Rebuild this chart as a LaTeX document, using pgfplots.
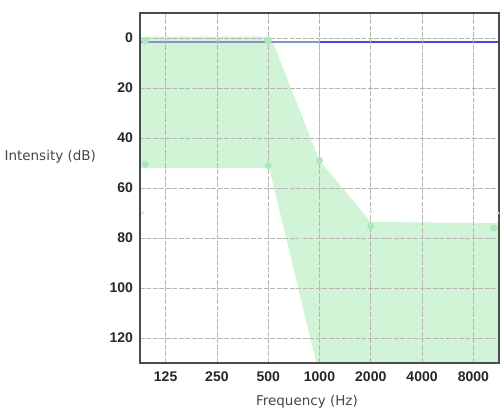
\documentclass[border=0pt]{standalone}
\usepackage{fontspec}
\setmainfont{DejaVu Sans}
\newfontfamily\tickfont{Liberation Sans}
\usepackage{pgfplots}
\pgfplotsset{compat=1.18}
\definecolor{areagreen}{RGB}{210,244,214}
\definecolor{dotgreen}{RGB}{172,232,184}
\definecolor{gridgray}{RGB}{182,182,182}
\definecolor{framegray}{RGB}{75,75,75}
\definecolor{lineblue}{RGB}{70,70,225}
\definecolor{mixblue}{RGB}{130,150,195}
\definecolor{labelgray}{RGB}{70,70,70}
\begin{document}
\begin{tikzpicture}
\useasboundingbox (0,0) rectangle (504pt,-419pt);
\begin{axis}[
  at={(140pt,-13pt)}, anchor=north west,
  scale only axis, width=359pt, height=350pt,
  xmin=-0.5, xmax=6.5, ymin=-10, ymax=130, y dir=reverse,
  xtick={0,1,2,3,4,5,6},
  xticklabels={125,250,500,1000,2000,4000,8000},
  ytick={0,20,40,60,80,100,120},
  major tick length=0pt,
  grid=major,
  major grid style={gridgray, dash pattern=on 5pt off 1.5pt, line width=0.8pt},
  axis line style={framegray, line width=2pt},
  axis on top,
  /pgf/number format/assume math mode=true,
  tick label style={font=\tickfont\bfseries\fontsize{14}{14}\selectfont, text=black!85},
  yticklabel style={xshift=-3.5pt},
  xticklabel style={yshift=-5.5pt},
  xlabel={Frequency (Hz)},
  ylabel={Intensity (dB)},
  label style={font=\fontsize{13.5}{14}\selectfont, text=labelgray},
  xlabel style={at={(axis description cs:0.465,-0.112)}, anchor=center},
  ylabel style={at={(axis description cs:-0.25,0.589)}, anchor=center, rotate=-90},
]
% shaded region between best and worst thresholds
\addplot[fill=areagreen, draw=none] coordinates {
  (-0.5,-0.5) (2.05,-0.5) (3,49) (4,73.6) (6.5,74) (6.5,131)
  (2.95,131) (2.02,52) (-0.5,52)
} -- cycle;
% thin vertical line at 1000 Hz
\addplot[dotgreen, line width=0.6pt] coordinates {(3,1.5) (3,49)};
% threshold line
\addplot[mixblue, line width=1.6pt] coordinates {(-0.5,1.5) (3,1.5)};
\addplot[lineblue, line width=1.6pt] coordinates {(3,1.5) (6.5,1.5)};
% faint small markers
\addplot[only marks, mark=*, mark size=1.3pt, dotgreen!70!white, mark options={draw=none}]
  coordinates {(-0.45,70) (2,70) (4,69.5) (6.48,70) (2.6,80)};
% threshold points
\addplot[only marks, mark=*, mark size=3.3pt, dotgreen, mark options={draw=none}]
  coordinates {(-0.4,1.2) (-0.4,50.5) (2,1.2) (2,51) (3,49) (4,75.2) (6.4,76)};
\end{axis}
\end{tikzpicture}
\end{document}
